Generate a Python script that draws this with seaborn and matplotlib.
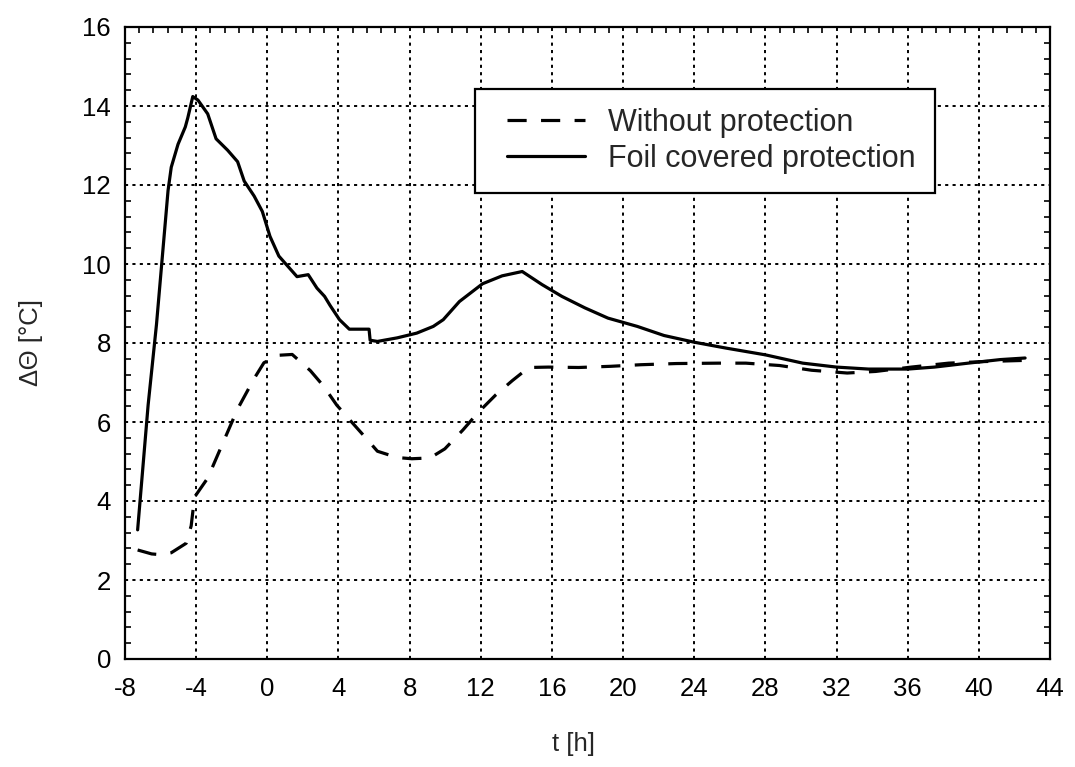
import numpy as np
import pandas as pd
import matplotlib
matplotlib.use("Agg")
import matplotlib.pyplot as plt
from matplotlib.ticker import MultipleLocator
from matplotlib.legend_handler import HandlerLine2D
import seaborn as sns

# ---- data ----
t_foil = [-7.29, -6.7, -6.23, -5.86, -5.58, -5.4, -5.02, -4.61, -4.47, -4.19, -3.9, -3.35,
          -2.88, -2.23, -1.67, -1.3, -0.74, -0.28, 0.15, 0.65, 1.1, 1.67, 2.3, 2.79, 3.22,
          3.53, 4.06, 4.61, 5.72, 5.78, 6.19, 7.3, 8.4, 9.33, 9.89, 10.8, 12.1, 13.2, 14.33,
          15.44, 16.56, 17.85, 19.15, 20.8, 22.3, 24.0, 25.8, 28.0, 30.1, 32.0, 33.8, 36.0,
          37.5, 39.4, 41.2, 42.6]
dT_foil = [3.27, 6.43, 8.47, 10.4, 11.86, 12.45, 13.03, 13.47, 13.7, 14.24, 14.15, 13.8,
           13.17, 12.88, 12.59, 12.1, 11.72, 11.33, 10.7, 10.2, 9.97, 9.68, 9.73, 9.39, 9.18,
           8.95, 8.59, 8.35, 8.35, 8.07, 8.04, 8.13, 8.25, 8.42, 8.59, 9.05, 9.5, 9.7, 9.81,
           9.48, 9.18, 8.89, 8.63, 8.42, 8.19, 8.02, 7.87, 7.7, 7.49, 7.39, 7.34, 7.34,
           7.39, 7.49, 7.58, 7.62]

t_none = [-7.29, -6.5, -5.95, -5.4, -4.56, -4.28, -4.09, -3.35, -2.42, -1.67, -0.74, -0.19,
          0.65, 1.4, 2.42, 3.16, 3.9, 4.7, 5.63, 6.19, 7.3, 8.13, 9.15, 9.98, 11.0, 11.83,
          12.85, 13.78, 14.7, 15.8, 17.5, 19.3, 21.0, 23.0, 25.4, 26.9, 28.8, 30.6, 32.6,
          34.2, 36.2, 38.3, 40.3, 42.6]
dT_none = [2.76, 2.66, 2.64, 2.69, 2.93, 3.37, 4.1, 4.58, 5.55, 6.33, 7.1, 7.5,
           7.69, 7.71, 7.3, 6.91, 6.43, 6.02, 5.55, 5.26, 5.1, 5.07, 5.09, 5.32, 5.8, 6.23,
           6.69, 7.05, 7.38, 7.39, 7.38, 7.41, 7.45, 7.48, 7.49, 7.49, 7.43, 7.31, 7.24,
           7.28, 7.39, 7.49, 7.53, 7.56]

label_none = "Without protection"
label_foil = "Foil covered protection"
xticks = list(range(-8, 45, 4))
yticks = list(range(0, 17, 2))

df_none = pd.DataFrame({"t": t_none, "dT": dT_none})
df_foil = pd.DataFrame({"t": t_foil, "dT": dT_foil})

sns.set_theme(style="white")
plt.rcParams["font.family"] = ["Liberation Sans", "DejaVu Sans"]
plt.rcParams["axes.unicode_minus"] = False

fig = plt.figure(figsize=(10.75, 7.67), dpi=100)
ax = fig.add_axes([125 / 1075, 1 - 659 / 767, 925 / 1075, 632 / 767])

sns.lineplot(data=df_none, x="t", y="dT", ax=ax, color="black", lw=2.3,
             linestyle=(0, (6, 4.5)), sort=False, estimator=None, label=label_none)
sns.lineplot(data=df_foil, x="t", y="dT", ax=ax, color="black", lw=2.3,
             linestyle="-", sort=False, estimator=None, label=label_foil)

ax.set_xlim(-8, 44)
ax.set_ylim(0, 16)
ax.set_xticks(xticks)
ax.set_yticks(yticks)
ax.xaxis.set_minor_locator(MultipleLocator(0.8))
ax.yaxis.set_minor_locator(MultipleLocator(0.4))

ax.grid(True, which="major", color="black", linestyle=(0, (1.6, 2.2)), linewidth=1.4)
ax.set_axisbelow(True)

for s in ax.spines.values():
    s.set_color("black")
    s.set_linewidth(1.6)
    s.set_visible(True)

ax.tick_params(axis="both", which="major", direction="in", length=0,
               labelsize=18.5, colors="black")
ax.tick_params(axis="x", which="major", pad=13)
ax.tick_params(axis="y", which="major", pad=10)
ax.tick_params(axis="both", which="minor", direction="in", length=4, width=1.2,
               color="black", top=True, right=True, left=True, bottom=False)

ax.set_xlabel("t [h]", fontsize=18.5, labelpad=26)
ax.xaxis.set_label_coords((573 - 125) / 925, -0.115)
ax.set_ylabel("ΔΘ [°C]", fontsize=18.5, labelpad=28)

handles, labels = ax.get_legend_handles_labels()
hmap = {h: HandlerLine2D(xpad=0.45) for h in handles}
leg = ax.legend(handles, labels, handler_map=hmap,
                loc="upper left", bbox_to_anchor=(0.378, 0.902), borderaxespad=0,
                fontsize=22, frameon=True, fancybox=False, shadow=False,
                handlelength=3.0, handletextpad=0.75, borderpad=0.62,
                labelspacing=0.2, edgecolor="black", framealpha=1)
leg.get_frame().set_linewidth(1.6)
for line in leg.get_lines():
    line.set_linewidth(2.3)

fig.savefig("out.png", dpi=100, facecolor="white")
